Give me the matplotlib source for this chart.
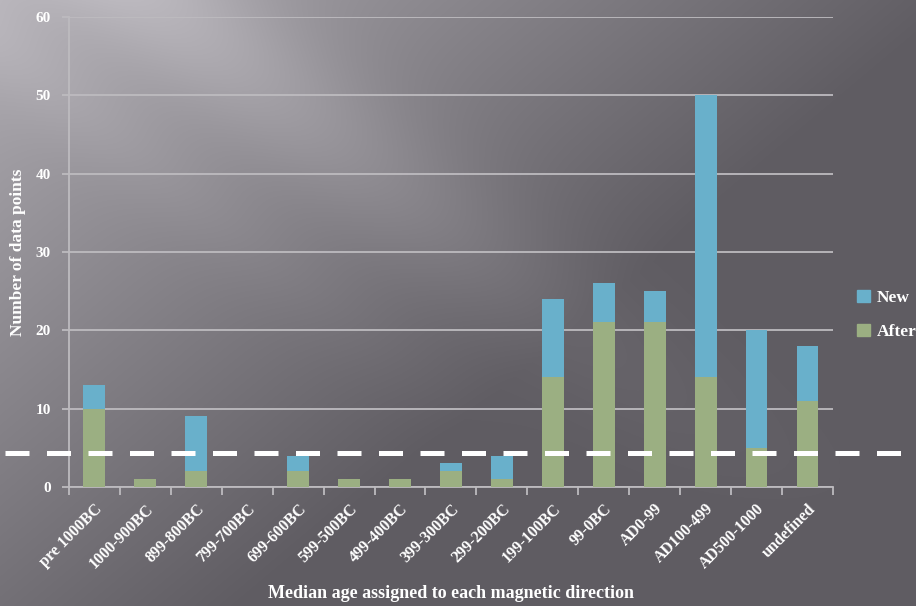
import numpy as np
import matplotlib.pyplot as plt

# Age bins and data counts
categories = ["pre 1000BC", "1000-900BC", "899-800BC", "799-700BC", "699-600BC",
              "599-500BC", "499-400BC", "399-300BC", "299-200BC", "199-100BC",
              "99-0BC", "AD0-99", "AD100-499", "AD500-1000", "undefined"]
after = [10, 1, 2, 0, 2, 1, 1, 2, 1, 14, 21, 21, 14, 5, 11]
new = [3, 0, 7, 0, 2, 0, 0, 1, 3, 10, 5, 4, 36, 15, 7]
threshold = 4.3

BLUE = "#69b0cb"
GREEN = "#9baf82"
GRID = "#bdbbbf"
FONT = ["Liberation Serif", "DejaVu Serif"]

fig = plt.figure(figsize=(9.16, 6.06), dpi=100)

# gray gradient backdrop with a soft diagonal highlight
h, w = 606, 916
yy, xx = np.mgrid[0:h, 0:w]
xn, yn = xx / w, yy / h
v = 92 + 80 * np.clip(1 - (0.95 * xn + 0.75 * yn), 0, 1)
d = ((xx - 150) * 400 - yy * 500) / np.hypot(500, 400)
v += 24 * np.exp(-(d / 70) ** 2) * np.clip(1 - yy / 520, 0, 1)
v += 12 * np.exp(-((d + 130) / 45) ** 2) * np.clip(1 - yy / 450, 0, 1)
img = np.dstack([v + 3, v, v + 6]) / 255
bg = fig.add_axes([0, 0, 1, 1], zorder=-10)
bg.imshow(np.clip(img, 0, 1), aspect="auto", interpolation="bilinear")
bg.axis("off")

ax = fig.add_axes([0.0753, 0.1964, 0.834, 0.7756])
ax.patch.set_alpha(0)
x = np.arange(len(categories))
ax.bar(x, after, width=0.43, color=GREEN, zorder=3)
ax.bar(x, new, width=0.43, bottom=after, color=BLUE, zorder=3)

ax.set_xlim(-0.5, len(categories) - 0.5)
ax.set_ylim(0, 60)
ax.set_yticks(range(0, 61, 10))
ax.yaxis.grid(True, color=GRID, linewidth=1.3, zorder=1)
ax.set_axisbelow(True)

# dashed reference line running past the plot edges
ax.axhline(threshold, xmin=-0.084, xmax=1.095, color="white", linewidth=3.6,
           dashes=(4.8, 3.5), clip_on=False, zorder=5)

for side in ["top", "right"]:
    ax.spines[side].set_visible(False)
for side in ["left", "bottom"]:
    ax.spines[side].set_color(GRID)
    ax.spines[side].set_linewidth(1.3)

ax.set_xticks(np.arange(-0.5, len(categories), 1), minor=False)
ax.set_xticklabels([])
ax.set_xticks(x, minor=True)
ax.set_xticklabels(categories, minor=True, rotation=45, ha="right",
                   rotation_mode="anchor", fontsize=11.5, color="white",
                   family=FONT, fontweight="bold")
ax.tick_params(axis="x", which="major", length=6, color=GRID, width=1.3)
ax.tick_params(axis="x", which="minor", length=0, pad=10)
ax.tick_params(axis="y", length=5, color=GRID, width=1.3, pad=8,
               labelcolor="white", labelsize=11)
for t in ax.get_yticklabels():
    t.set_family(FONT)
    t.set_fontweight("bold")

ax.set_ylabel("Number of data points", color="white", fontsize=12.5,
              family=FONT, fontweight="bold", va="center")
ax.yaxis.set_label_coords(-0.067, 0.5)
ax.set_xlabel("Median age assigned to each magnetic direction", color="white",
              fontsize=13, family=FONT, fontweight="bold", va="center")
ax.xaxis.set_label_coords(0.5, -0.226)

handles = [plt.Rectangle((0, 0), 1, 1, color=BLUE),
           plt.Rectangle((0, 0), 1, 1, color=GREEN)]
leg = fig.legend(handles, ["New", "After"], loc="center left",
                 bbox_to_anchor=(0.936, 0.48), frameon=False,
                 handlelength=0.7, handleheight=0.7, handletextpad=0.4,
                 labelspacing=1.0, borderpad=0, borderaxespad=0,
                 prop={"family": FONT, "weight": "bold", "size": 12.5})
for t in leg.get_texts():
    t.set_color("white")

fig.savefig("out.png", dpi=100)
